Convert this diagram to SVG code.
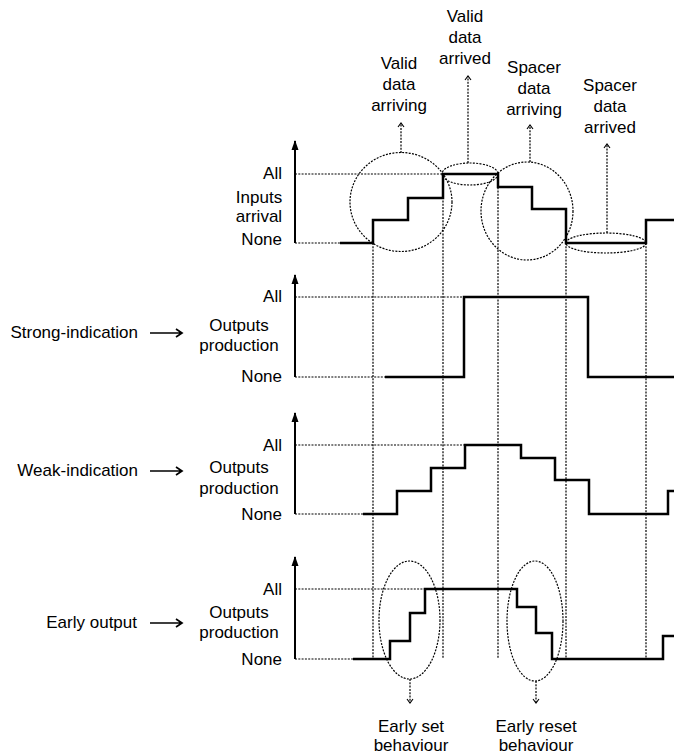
<svg xmlns="http://www.w3.org/2000/svg" width="674" height="755" viewBox="0 0 674 755">
<style>
text{font-family:"Liberation Sans",Arial,sans-serif;font-size:17px;fill:#000}
.c{text-anchor:middle}
.r{text-anchor:end}
.dot{fill:none;stroke:#000;stroke-width:1.2;stroke-dasharray:2 1.3}
.sig{fill:none;stroke:#000;stroke-width:2.5;stroke-linejoin:miter}
.axis{stroke:#000;stroke-width:2}
.arr{fill:none;stroke:#000;stroke-width:1.7}
</style>
<defs>
<marker id="openHead" viewBox="0 0 8 8" refX="6" refY="4" markerWidth="8" markerHeight="8" markerUnits="userSpaceOnUse" orient="auto">
<path d="M2,1 L6,4 L2,7" fill="none" stroke="#000" stroke-width="1.1"/>
</marker>
<marker id="axisHead" viewBox="0 0 10 8" refX="9" refY="4" markerWidth="10" markerHeight="8" markerUnits="userSpaceOnUse" orient="auto">
<path d="M0,0.5 L10,4 L0,7.5 Z" fill="#000"/>
</marker>
</defs>

<g id="connectors">
<line class="dot" x1="373" y1="243" x2="373" y2="659"/>
<line class="dot" x1="443" y1="174" x2="443" y2="659"/>
<line class="dot" x1="498" y1="174" x2="498" y2="659"/>
<line class="dot" x1="566" y1="243" x2="566" y2="659"/>
<line class="dot" x1="646" y1="243" x2="646" y2="659"/>
<line class="dot" x1="401" y1="153" x2="401" y2="123" marker-end="url(#openHead)"/>
<line class="dot" x1="468" y1="163" x2="468" y2="76" marker-end="url(#openHead)"/>
<line class="dot" x1="530" y1="162" x2="530" y2="125" marker-end="url(#openHead)"/>
<line class="dot" x1="607" y1="233" x2="607" y2="144" marker-end="url(#openHead)"/>
<line class="dot" x1="410" y1="679" x2="410" y2="703" marker-end="url(#openHead)"/>
<line class="dot" x1="536" y1="681" x2="536" y2="703" marker-end="url(#openHead)"/>
<g class="arr">
<path d="M150,333 H182 M176,329 L182,333 L176,337"/>
<path d="M150,471 H182 M176,467 L182,471 L176,475"/>
<path d="M150,623 H182 M176,619 L182,623 L176,627"/>
</g>
</g>

<g id="panel-inputs">
<line class="axis" x1="295" y1="243" x2="295" y2="141" marker-end="url(#axisHead)"/>
<line class="dot" x1="295" y1="174" x2="443" y2="174"/>
<line class="dot" x1="295" y1="243" x2="340" y2="243"/>
<path class="sig" d="M340,243 H373 V220 H408 V198 H443 V174 H498 V187 H532 V209 H566 V243 H646 V220 H674"/>
<ellipse class="dot" cx="401" cy="202" rx="51" ry="49.5"/>
<ellipse class="dot" cx="470" cy="174" rx="28" ry="11"/>
<ellipse class="dot" cx="527" cy="211" rx="46" ry="49"/>
<ellipse class="dot" cx="606" cy="243" rx="40" ry="10"/>
<text class="r" x="282" y="179">All</text>
<text class="c" x="259" y="203">Inputs</text>
<text class="c" x="259" y="222">arrival</text>
<text class="r" x="282" y="245">None</text>
</g>

<g id="label-valid-arriving">
<text class="c" x="399" y="69">Valid</text>
<text class="c" x="399" y="90">data</text>
<text class="c" x="399" y="111">arriving</text>
</g>
<g id="label-valid-arrived">
<text class="c" x="465" y="22">Valid</text>
<text class="c" x="465" y="43">data</text>
<text class="c" x="465" y="64">arrived</text>
</g>
<g id="label-spacer-arriving">
<text class="c" x="534" y="73">Spacer</text>
<text class="c" x="534" y="94">data</text>
<text class="c" x="534" y="115">arriving</text>
</g>
<g id="label-spacer-arrived">
<text class="c" x="610" y="91">Spacer</text>
<text class="c" x="610" y="112">data</text>
<text class="c" x="610" y="133">arrived</text>
</g>

<g id="panel-strong">
<text class="r" x="138" y="338">Strong-indication</text>
<line class="axis" x1="295" y1="377" x2="295" y2="275" marker-end="url(#axisHead)"/>
<line class="dot" x1="295" y1="297" x2="464" y2="297"/>
<line class="dot" x1="295" y1="377" x2="385" y2="377"/>
<path class="sig" d="M385,377 H464 V297 H588 V377 H674"/>
<text class="r" x="282" y="302">All</text>
<text class="c" x="239" y="331">Outputs</text>
<text class="c" x="239" y="351">production</text>
<text class="r" x="282" y="382">None</text>
</g>

<g id="panel-weak">
<text class="r" x="138" y="476">Weak-indication</text>
<line class="axis" x1="295" y1="514" x2="295" y2="413" marker-end="url(#axisHead)"/>
<line class="dot" x1="295" y1="445" x2="465" y2="445"/>
<line class="dot" x1="295" y1="514" x2="363" y2="514"/>
<path class="sig" d="M363,514 H397 V491 H431 V468 H465 V445 H521 V458 H555 V480 H589 V514 H668 V491 H674"/>
<text class="r" x="282" y="451">All</text>
<text class="c" x="239" y="473">Outputs</text>
<text class="c" x="239" y="494">production</text>
<text class="r" x="282" y="520">None</text>
</g>

<g id="panel-early">
<text class="r" x="137" y="628">Early output</text>
<line class="axis" x1="295" y1="659" x2="295" y2="557" marker-end="url(#axisHead)"/>
<line class="dot" x1="295" y1="589" x2="425" y2="589"/>
<line class="dot" x1="295" y1="659" x2="353" y2="659"/>
<path class="sig" d="M353,659 H390 V641 H410 V613 H425 V589 H517 V607 H536 V633 H552 V659 H663 V636 H674"/>
<ellipse class="dot" cx="409.5" cy="620" rx="30.5" ry="59"/>
<ellipse class="dot" cx="535" cy="621" rx="28" ry="60"/>
<text class="r" x="282" y="595">All</text>
<text class="c" x="239" y="618">Outputs</text>
<text class="c" x="239" y="638">production</text>
<text class="r" x="282" y="665">None</text>
</g>

<g id="label-early-set">
<text class="c" x="411" y="732">Early set</text>
<text class="c" x="411" y="751">behaviour</text>
</g>
<g id="label-early-reset">
<text class="c" x="536" y="732">Early reset</text>
<text class="c" x="536" y="751">behaviour</text>
</g>
</svg>
